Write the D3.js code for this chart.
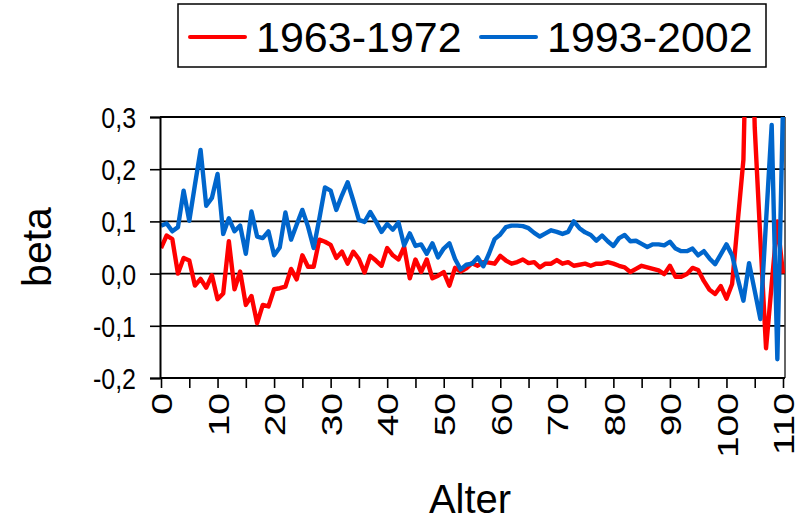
<!DOCTYPE html>
<html>
<head>
<meta charset="utf-8">
<script src="https://cdn.jsdelivr.net/npm/d3@7"></script>
<style>
  html, body { margin: 0; padding: 0; background: #fff; }
  svg text { font-family: "Liberation Sans", Arial, sans-serif; fill: #000; }
</style>
</head>
<body>
<svg id="chart" width="800" height="521"></svg>
<script>
// Age (Alter) 0..110 and the beta estimates of the two periods
const ages = d3.range(0, 111);

const beta1963 = [
  0.049, 0.073, 0.066, 0.000, 0.030, 0.025, -0.023, -0.010, -0.027, -0.003,
  -0.049, -0.038, 0.062, -0.030, 0.004, -0.060, -0.043, -0.095, -0.060, -0.063,
  -0.030, -0.028, -0.025, 0.009, -0.011, 0.035, 0.013, 0.013, 0.065, 0.061,
  0.055, 0.030, 0.042, 0.019, 0.042, 0.028, 0.002, 0.034, 0.025, 0.015,
  0.049, 0.035, 0.027, 0.051, -0.009, 0.027, 0.003, 0.027, -0.009, -0.004,
  0.003, -0.023, 0.011, 0.004, 0.010, 0.020, 0.015, 0.022, 0.021, 0.019,
  0.034, 0.025, 0.019, 0.022, 0.027, 0.020, 0.022, 0.012, 0.019, 0.019,
  0.026, 0.019, 0.022, 0.015, 0.017, 0.019, 0.015, 0.019, 0.019, 0.022,
  0.019, 0.015, 0.012, 0.003, 0.009, 0.015, 0.012, 0.009, 0.006, -0.001,
  0.015, -0.006, -0.006, -0.001, 0.011, 0.007, -0.014, -0.031, -0.039, -0.024,
  -0.048, -0.020, 0.100, 0.218, 0.700, 0.280, 0.065, -0.143, -0.020, 0.100,
  0.000
];

const beta1993 = [
  0.092, 0.096, 0.081, 0.089, 0.159, 0.101, 0.170, 0.237, 0.130, 0.145,
  0.191, 0.076, 0.106, 0.081, 0.092, 0.038, 0.119, 0.071, 0.068, 0.081,
  0.035, 0.050, 0.117, 0.065, 0.094, 0.122, 0.090, 0.049, 0.105, 0.165,
  0.159, 0.122, 0.150, 0.175, 0.140, 0.103, 0.099, 0.118, 0.100, 0.080,
  0.095, 0.084, 0.098, 0.054, 0.077, 0.053, 0.056, 0.038, 0.058, 0.031,
  0.048, 0.058, 0.028, 0.008, 0.017, 0.019, 0.031, 0.014, 0.038, 0.066,
  0.075, 0.089, 0.092, 0.092, 0.091, 0.087, 0.078, 0.071, 0.077, 0.083,
  0.080, 0.076, 0.080, 0.100, 0.087, 0.079, 0.074, 0.063, 0.073, 0.062,
  0.053, 0.068, 0.074, 0.062, 0.063, 0.057, 0.051, 0.056, 0.056, 0.054,
  0.061, 0.048, 0.043, 0.043, 0.048, 0.035, 0.043, 0.029, 0.018, 0.037,
  0.056, 0.035, -0.010, -0.052, 0.020, -0.033, -0.087, 0.100, 0.285, -0.164,
  0.320
];

const seriesNames = ["1963-1972", "1993-2002"];
const seriesColors = ["#ff0000", "#0066cc"];
const yTicks = [-0.2, -0.1, 0.0, 0.1, 0.2, 0.3];
const yTickLabels = ["-0,2", "-0,1", "0,0", "0,1", "0,2", "0,3"];
const xMinorTicks = d3.range(0, 111, 5);
const xTickLabels = d3.range(0, 111, 10);

const svg = d3.select("#chart");

const x = d3.scaleLinear().domain([0, 110]).range([161, 783]);
const y = d3.scaleLinear().domain([-0.2, 0.3]).range([378, 117]);
const plotLeft = 160, plotRight = 785;

// clip for the lines: values beyond the axis range are cut at the plot edge
svg.append("clipPath").attr("id", "plotClip")
  .append("rect")
  .attr("x", plotLeft).attr("y", y(0.3))
  .attr("width", plotRight - plotLeft).attr("height", y(-0.2) - y(0.3));

// horizontal gridlines
svg.append("g")
  .selectAll("line")
  .data(yTicks.filter(v => v > -0.2))
  .join("line")
  .attr("x1", plotLeft).attr("x2", plotRight)
  .attr("y1", d => y(d)).attr("y2", d => y(d))
  .attr("stroke", "#000").attr("stroke-width", 1.8);

// right border of the plot area
svg.append("line")
  .attr("x1", plotRight).attr("x2", plotRight)
  .attr("y1", y(0.3)).attr("y2", y(-0.2))
  .attr("stroke", "#333").attr("stroke-width", 1.5);

// series lines
const line = d3.line().x((d, i) => x(ages[i])).y(d => y(d));
[beta1963, beta1993].forEach((vals, k) => {
  svg.append("path")
    .datum(vals)
    .attr("clip-path", "url(#plotClip)")
    .attr("fill", "none")
    .attr("stroke", seriesColors[k])
    .attr("stroke-width", 4.4)
    .attr("stroke-linejoin", "round")
    .attr("d", line);
});

// resize a text element to a fraction of its natural advance width
function fitWidth(sel, ratio) {
  sel.each(function () {
    const w = this.getComputedTextLength();
    if (w > 0) {
      d3.select(this)
        .attr("textLength", w * ratio)
        .attr("lengthAdjust", "spacingAndGlyphs");
    }
  });
}

// y axis
const yAxis = d3.axisLeft(y)
  .tickValues(yTicks)
  .tickSize(10)
  .tickPadding(14)
  .tickFormat((d, i) => yTickLabels[i]);
const gy = svg.append("g").attr("transform", `translate(${plotLeft},0)`).call(yAxis);
gy.select(".domain").attr("stroke", "#000").attr("stroke-width", 2);
gy.selectAll(".tick line").attr("stroke", "#000").attr("stroke-width", 1.6);
gy.selectAll(".tick text")
  .attr("font-size", 29)
  .attr("dy", "0.36em")
  .attr("font-family", "Liberation Sans, Arial, sans-serif")
  .call(fitWidth, 0.86);

// x axis: ticks every 5, labels every 10, rotated
const xAxis = d3.axisBottom(x)
  .tickValues(xMinorTicks)
  .tickSize(10)
  .tickFormat(d => (xTickLabels.includes(d) ? String(d) : ""));
const gx = svg.append("g").attr("transform", `translate(0,${y(-0.2)})`).call(xAxis);
gx.select(".domain").attr("stroke", "#000").attr("stroke-width", 2)
  .attr("d", `M${plotLeft},0H${plotRight}`);
gx.selectAll(".tick line").attr("stroke", "#000").attr("stroke-width", 1.6);
gx.selectAll(".tick text")
  .attr("font-size", 30)
  .attr("font-family", "Liberation Sans, Arial, sans-serif")
  .attr("text-anchor", "end")
  .attr("transform", "translate(0,15) rotate(-90)")
  .attr("x", 0).attr("y", 0)
  .attr("dy", "0.36em")
  .call(fitWidth, 1.3);

// axis titles
svg.append("text")
  .attr("transform", "translate(51,247) rotate(-90)")
  .attr("text-anchor", "middle")
  .attr("font-size", 41)
  .text("beta");

svg.append("text")
  .attr("x", 470).attr("y", 513)
  .attr("text-anchor", "middle")
  .attr("font-size", 40)
  .text("Alter");

// legend
const legend = svg.append("g");
legend.append("rect")
  .attr("x", 178).attr("y", 4).attr("width", 588).attr("height", 63)
  .attr("fill", "#fff").attr("stroke", "#000").attr("stroke-width", 1.5);
const legendX = [190, 481];
seriesNames.forEach((name, k) => {
  legend.append("line")
    .attr("x1", legendX[k]).attr("x2", legendX[k] + 55)
    .attr("y1", 37).attr("y2", 37)
    .attr("stroke", seriesColors[k]).attr("stroke-width", 4)
    .attr("stroke-linecap", "round");
  legend.append("text")
    .attr("x", legendX[k] + 66).attr("y", 52)
    .attr("font-size", 43)
    .text(name);
});
</script>
</body>
</html>
